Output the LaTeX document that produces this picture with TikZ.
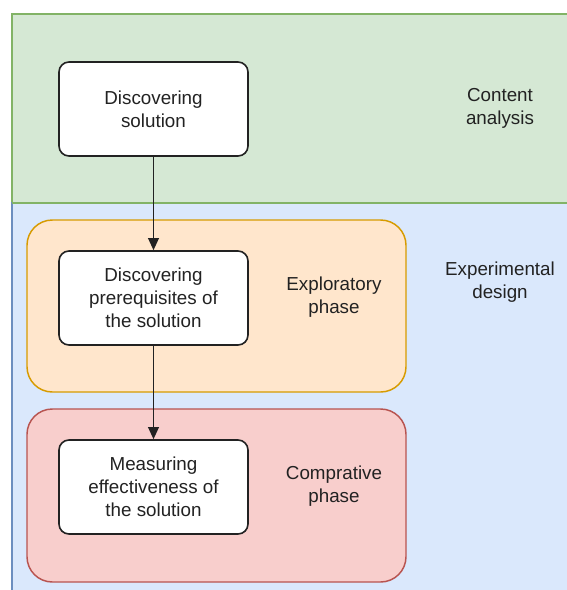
\documentclass[tikz,border=0pt]{standalone}
\usepackage{fontspec}
\setmainfont{Liberation Sans}
\usetikzlibrary{arrows.meta}
\definecolor{greenfill}{HTML}{D5E8D4}
\definecolor{greenline}{HTML}{82B366}
\definecolor{bluefill}{HTML}{DAE8FC}
\definecolor{blueline}{HTML}{6C8EBF}
\definecolor{orangefill}{HTML}{FFE6CC}
\definecolor{orangeline}{HTML}{D79B00}
\definecolor{redfill}{HTML}{F8CECC}
\definecolor{redline}{HTML}{B85450}
\definecolor{ink}{HTML}{222222}
\begin{document}
\begin{tikzpicture}[x=0.75pt,y=-0.75pt,
  txt/.style={font=\fontsize{14.1}{17.25}\selectfont, text=ink, align=center},
  stepbox/.style={draw=ink, line width=1.2pt, fill=white, rounded corners=7.5pt,
    minimum width=189*0.75pt, minimum height=94*0.75pt, txt},
  phase/.style={line width=1.1pt, rounded corners=19pt},
  flow/.style={draw=ink, line width=1.1pt, -{Triangle[length=9pt,width=8pt]}}]
\useasboundingbox (0,0) rectangle (567,590);
\begin{scope}
\clip (0,0) rectangle (567,590);
% swim lanes
\draw[fill=greenfill, draw=greenline, line width=1.1pt] (12,14) rectangle (580,203);
\draw[fill=bluefill, draw=blueline, line width=1.1pt] (12,203) rectangle (580,600);
\draw[greenline, line width=1.1pt] (12,203) -- (580,203);
\end{scope}
% phases
\draw[phase, fill=orangefill, draw=orangeline] (27,220) rectangle (406,392);
\draw[phase, fill=redfill, draw=redline] (27,409) rectangle (406,582);
% lane and phase labels
\node[txt] (content) at (500,108.5) {Content\\analysis};
\node[txt] (experimental) at (500,282.5) {Experimental\\design};
\node[txt] (exploratory) at (334,297.5) {Exploratory\\phase};
\node[txt] (comparative) at (334,486.5) {Comprative\\phase};
% steps
\node[stepbox] (s1) at (153.5,109) {Discovering\\solution};
\node[stepbox] (s2) at (153.5,298) {Discovering\\prerequisites of\\the solution};
\node[stepbox] (s3) at (153.5,487) {Measuring\\effectiveness of\\the solution};
\draw[flow] (s1) -- (s2);
\draw[flow] (s2) -- (s3);
\end{tikzpicture}
\end{document}
